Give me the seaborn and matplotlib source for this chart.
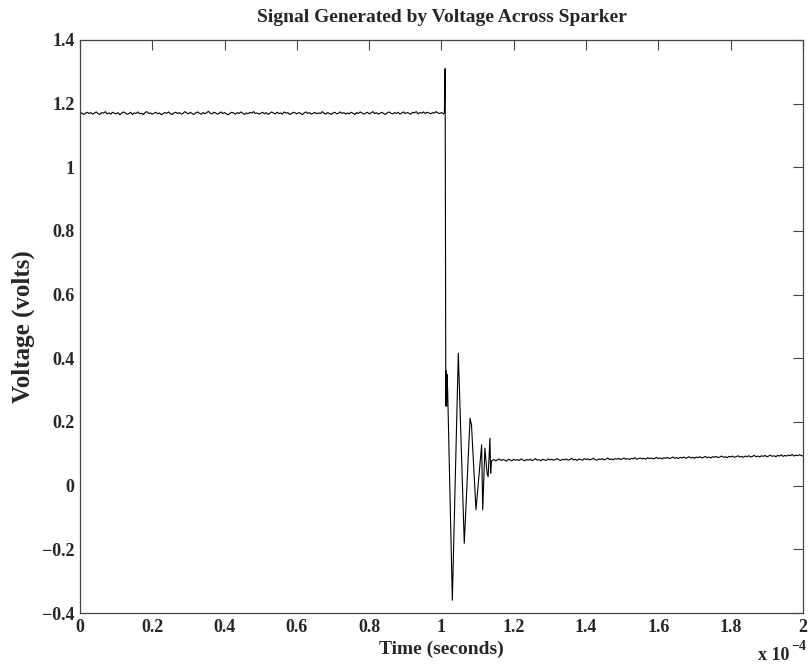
import numpy as np
import pandas as pd
import matplotlib
matplotlib.use("Agg")
import matplotlib.pyplot as plt
import seaborn as sns

# ---- data (time in units of 1e-4 s, voltage in volts) ----
pre_start = 0.0
pre_step = 0.005
pre_values = [1.168,1.171,1.166,1.170,1.173,1.169,1.172,1.167,1.171,1.174,
              1.169,1.166,1.172,1.170,1.175,1.168,1.171,1.167,1.173,1.170,
              1.168,1.172,1.165,1.170,1.174,1.171,1.167,1.169,1.173,1.166,
              1.171,1.169,1.174,1.168,1.170,1.166,1.172,1.175,1.169,1.171,
              1.167,1.170,1.173,1.168,1.171,1.165,1.169,1.172,1.170,1.174,
              1.168,1.166,1.171,1.173,1.169,1.172,1.167,1.170,1.175,1.171,
              1.168,1.173,1.169,1.166,1.171,1.174,1.170,1.167,1.172,1.169,
              1.171,1.176,1.170,1.168,1.173,1.171,1.167,1.170,1.174,1.169,
              1.172,1.168,1.165,1.170,1.173,1.171,1.167,1.172,1.169,1.174,
              1.170,1.166,1.171,1.168,1.173,1.170,1.175,1.169,1.171,1.167,
              1.170,1.173,1.168,1.172,1.166,1.170,1.174,1.171,1.168,1.173,
              1.169,1.171,1.167,1.174,1.170,1.172,1.166,1.169,1.173,1.171,
              1.168,1.172,1.170,1.165,1.171,1.174,1.169,1.172,1.167,1.170,
              1.173,1.168,1.171,1.169,1.175,1.170,1.167,1.172,1.169,1.166,
              1.171,1.173,1.168,1.170,1.174,1.169,1.172,1.167,1.171,1.168,
              1.173,1.170,1.166,1.172,1.169,1.174,1.171,1.167,1.170,1.173,
              1.168,1.171,1.175,1.169,1.172,1.167,1.170,1.173,1.169,1.166,
              1.171,1.174,1.170,1.168,1.172,1.169,1.173,1.167,1.171,1.174,
              1.169,1.172,1.170,1.167,1.173,1.171,1.175,1.168,1.172,1.170,
              1.174,1.169,1.173,1.171,1.168,1.172,1.170,1.175,1.171,1.169,
              1.172]

transient_t = [1.006, 1.008, 1.010, 1.012, 1.013, 1.014, 1.015, 1.017,
               1.030, 1.0465, 1.063, 1.079, 1.083, 1.0954, 1.111, 1.114,
               1.120, 1.126, 1.129, 1.134, 1.136, 1.138]
transient_v = [1.168, 1.172, 1.310, 0.250, 0.360, 0.250, 0.350, 0.300,
               -0.360, 0.416, -0.181, 0.212, 0.190, -0.076, 0.128, -0.076,
               0.118, 0.040, 0.028, 0.149, 0.039, 0.075]

post_start = 1.14
post_step = 0.005
post_values = [0.079,0.082,0.078,0.081,0.084,0.079,0.082,0.080,0.077,0.083,
               0.081,0.078,0.083,0.080,0.082,0.079,0.084,0.081,0.078,0.082,
               0.080,0.083,0.079,0.081,0.085,0.080,0.082,0.078,0.083,0.081,
               0.079,0.084,0.081,0.083,0.080,0.082,0.085,0.081,0.079,0.083,
               0.081,0.084,0.080,0.082,0.086,0.081,0.083,0.079,0.084,0.082,
               0.080,0.085,0.082,0.084,0.081,0.083,0.086,0.082,0.080,0.084,
               0.082,0.085,0.081,0.083,0.087,0.082,0.084,0.081,0.085,0.083,
               0.086,0.082,0.084,0.087,0.083,0.085,0.082,0.086,0.084,0.088,
               0.083,0.085,0.087,0.084,0.086,0.083,0.088,0.085,0.087,0.084,
               0.086,0.089,0.085,0.087,0.084,0.088,0.086,0.089,0.085,0.087,
               0.090,0.086,0.088,0.085,0.089,0.087,0.090,0.086,0.088,0.091,
               0.087,0.089,0.086,0.090,0.088,0.091,0.087,0.089,0.092,0.088,
               0.090,0.087,0.091,0.089,0.092,0.088,0.090,0.093,0.089,0.091,
               0.088,0.092,0.090,0.093,0.089,0.091,0.094,0.090,0.092,0.089,
               0.093,0.091,0.094,0.090,0.092,0.095,0.091,0.093,0.090,0.094,
               0.092,0.095,0.091,0.093,0.096,0.092,0.094,0.091,0.095,0.093,
               0.097,0.092,0.095,0.093,0.096,0.094,0.098,0.093,0.096,0.094,
               0.097,0.095,0.093]

xtick_vals = [0, 0.2, 0.4, 0.6, 0.8, 1.0, 1.2, 1.4, 1.6, 1.8, 2.0]
xtick_labels = ["0", "0.2", "0.4", "0.6", "0.8", "1", "1.2", "1.4", "1.6", "1.8", "2"]
ytick_vals = [-0.4, -0.2, 0, 0.2, 0.4, 0.6, 0.8, 1.0, 1.2, 1.4]
ytick_labels = ["\u22120.4", "\u22120.2", "0", "0.2", "0.4", "0.6", "0.8", "1", "1.2", "1.4"]

pre_t = pre_start + pre_step * np.arange(len(pre_values))
post_t = post_start + post_step * np.arange(len(post_values))
t = np.concatenate([pre_t, transient_t, post_t]) * 1e-4
v = np.concatenate([pre_values, transient_v, post_values])
df = pd.DataFrame({"t": t, "v": v})

sns.set_style("white")
plt.rcParams["font.family"] = ["Liberation Serif", "DejaVu Serif"]
plt.rcParams["font.weight"] = "bold"

fig = plt.figure(figsize=(8.12, 6.68), dpi=100)
ax = fig.add_axes([80/812, 55/668, (803-80)/812, (613-40)/668])
sns.lineplot(data=df, x="t", y="v", sort=False, estimator=None,
             color="black", linewidth=0.8, ax=ax)

ax.set_xlim(0, 2e-4)
ax.set_ylim(-0.4, 1.4)
ax.set_xticks([x * 1e-4 for x in xtick_vals])
ax.set_xticklabels(xtick_labels, fontsize=13, fontweight="bold")
ax.set_yticks(ytick_vals)
ax.set_yticklabels(ytick_labels, fontsize=13, fontweight="bold")
ax.tick_params(direction="in", length=7, width=0.8, top=True, right=True,
               color="#444444", pad=4)
for s in ax.spines.values():
    s.set_color("#444444")
    s.set_linewidth(0.9)

ax.set_title("Signal Generated by Voltage Across Sparker", fontsize=14,
             fontweight="bold", pad=13)
ax.set_xlabel("Time (seconds)", fontsize=14, fontweight="bold", labelpad=4)
ax.set_ylabel("Voltage (volts)", fontsize=18, fontweight="bold", labelpad=5)

fig.text(758/812, 1 - 660/668, "x 10", fontsize=13, fontweight="bold",
         ha="left", va="baseline")
fig.text(791/812, 1 - 650/668, "\u22124", fontsize=10, fontweight="bold",
         ha="left", va="baseline")

fig.savefig("out.png", dpi=100)
